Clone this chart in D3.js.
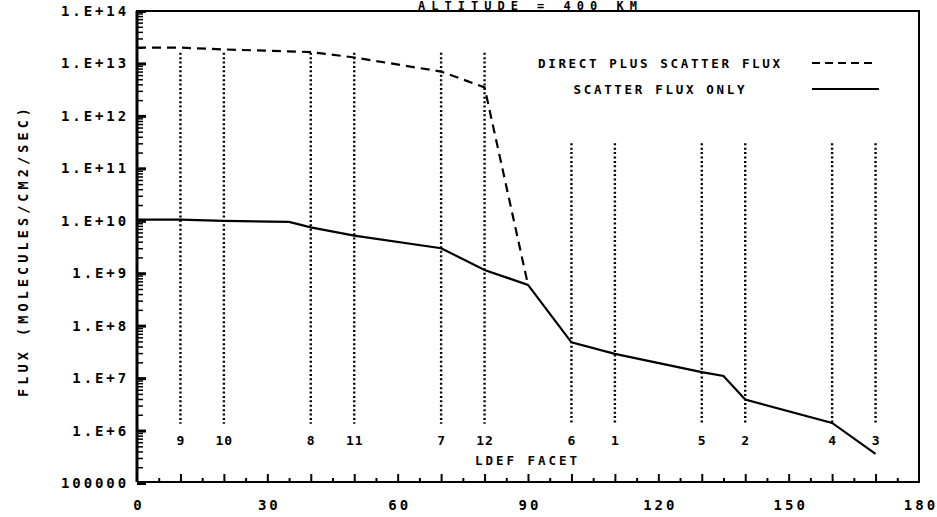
<!DOCTYPE html>
<html>
<head>
<meta charset="utf-8">
<script src="https://cdn.jsdelivr.net/npm/d3@7"></script>
<style>
  html, body { margin: 0; padding: 0; background: #fff; }
  svg text { font-family: "DejaVu Sans Mono", monospace; font-weight: bold; fill: #000; }
</style>
</head>
<body>
<svg id="chart" width="937" height="517"></svg>
<script>
// ---- data ----
const directAngles = [0, 10, 20, 40, 50, 70, 80, 90];
const directFlux   = [2.0e13, 2.0e13, 1.85e13, 1.65e13, 1.3e13, 7.0e12, 3.5e12, 6.0e8];
const scatterAngles = [0, 10, 20, 35, 40, 50, 70, 80, 90, 100, 110, 130, 135, 140, 160, 170];
const scatterFlux   = [1.05e10, 1.05e10, 1.0e10, 9.5e9, 7.5e9, 5.2e9, 3.0e9, 1.15e9, 6.0e8, 4.8e7, 2.9e7, 1.3e7, 1.1e7, 3.9e6, 1.4e6, 3.6e5];
const facetAngles = [10, 20, 40, 50, 70, 80, 100, 110, 130, 140, 160, 170];
const facetLabels = ["9", "10", "8", "11", "7", "12", "6", "1", "5", "2", "4", "3"];
const facetTop    = [1.6e13, 1.6e13, 1.6e13, 1.6e13, 1.6e13, 1.6e13, 3e11, 3e11, 3e11, 3e11, 3e11, 3e11];
const xTickLabels = [0, 30, 60, 90, 120, 150, 180];
const yTickValues = [1e5, 1e6, 1e7, 1e8, 1e9, 1e10, 1e11, 1e12, 1e13, 1e14];
const legendLabels = ["DIRECT PLUS SCATTER FLUX", "SCATTER FLUX ONLY"];
const titleText = "ALTITUDE = 400 KM";
const xTitle = "LDEF FACET";
const yTitle = "FLUX (MOLECULES/CM2/SEC)";

// ---- layout ----
const L = 137, R = 919, T = 11, B = 482;
const svg = d3.select("#chart");
const x = d3.scaleLinear().domain([0, 180]).range([L, R]);
const y = d3.scaleLog().domain([1e5, 1e14]).range([B + 1, T]);

// title (squeezed above the frame)
svg.append("text").attr("x", 418).attr("y", 9.5)
  .attr("font-size", 12).attr("textLength", 219).attr("lengthAdjust", "spacing")
  .text(titleText);

// frame
svg.append("path")
  .attr("d", `M${L},${B} L${L},${T} L${R},${T} L${R},${B} L${L},${B}`)
  .attr("fill", "none").attr("stroke", "#000").attr("stroke-width", 2);
svg.append("line").attr("x1", L).attr("x2", L).attr("y1", T).attr("y2", B)
  .attr("stroke", "#000").attr("stroke-width", 3);

// y axis: minor ticks
const minor = [];
for (let e = 5; e < 14; e++) for (let m = 2; m <= 9; m++) minor.push(m * Math.pow(10, e));
svg.append("g").attr("transform", `translate(${L},0)`)
  .call(d3.axisLeft(y).tickValues(minor).tickSize(-6).tickFormat(""))
  .call(g => g.select(".domain").remove())
  .call(g => g.selectAll("line").attr("stroke-width", 1.5));
// y axis: major ticks + labels
const fmtY = v => { const e = Math.round(Math.log10(v)); return e === 5 ? "100000" : "1.E+" + e; };
svg.append("g").attr("transform", `translate(${L},0)`)
  .call(d3.axisLeft(y).tickValues(yTickValues).tickSize(-9).tickPadding(8).tickFormat(fmtY))
  .call(g => g.select(".domain").remove())
  .call(g => g.selectAll("line").attr("stroke-width", 3))
  .call(g => g.selectAll("text").attr("font-size", 14).attr("font-family", null)
     .attr("letter-spacing", 2.9));

// x axis ticks
const x5 = d3.range(5, 180, 10);
const x10 = d3.range(10, 180, 10);
svg.append("g").attr("transform", `translate(0,${B})`)
  .call(d3.axisBottom(x).tickValues(x5).tickSize(-4).tickFormat(""))
  .call(g => g.select(".domain").remove())
  .call(g => g.selectAll("line").attr("stroke-width", 2));
svg.append("g").attr("transform", `translate(0,${B})`)
  .call(d3.axisBottom(x).tickValues(x10).tickSize(-8).tickFormat(""))
  .call(g => g.select(".domain").remove())
  .call(g => g.selectAll("line").attr("stroke-width", 2));
svg.append("g").attr("transform", `translate(0,${B})`)
  .call(d3.axisBottom(x).tickValues(xTickLabels).tickSize(0).tickPadding(18).tickFormat(d => String(d)))
  .call(g => g.select(".domain").remove())
  .call(g => g.selectAll("text").attr("font-size", 14).attr("font-family", null)
     .attr("letter-spacing", 3).attr("dx", 1.5));

// facet dotted lines
const facets = facetAngles.map((a, i) => ({ a, label: facetLabels[i], top: facetTop[i] }));
svg.append("g").selectAll("line").data(facets).join("line")
  .attr("x1", d => x(d.a)).attr("x2", d => x(d.a))
  .attr("y1", d => y(d.top)).attr("y2", y(1.35e6))
  .attr("stroke", "#000").attr("stroke-width", 2.4).attr("stroke-dasharray", "2,2.4");
svg.append("g").selectAll("text").data(facets).join("text")
  .attr("x", d => x(d.a)).attr("y", 445).attr("text-anchor", "middle")
  .attr("font-size", 13).attr("letter-spacing", 1).attr("dx", 0.5)
  .text(d => d.label);
svg.append("text").attr("x", 475).attr("y", 465).attr("font-size", 12.5)
  .attr("textLength", 102).attr("lengthAdjust", "spacing").text(xTitle);

// y title
svg.append("text").attr("transform", "translate(28,252.5) rotate(-90)")
  .attr("text-anchor", "middle").attr("font-size", 13.5)
  .attr("textLength", 289).attr("lengthAdjust", "spacing").text(yTitle);

// series lines
const line = d3.line().x(d => x(d[0])).y(d => y(d[1]));
svg.append("path").datum(directAngles.map((a, i) => [a, directFlux[i]]))
  .attr("d", line).attr("fill", "none").attr("stroke", "#000")
  .attr("stroke-width", 2.2).attr("stroke-dasharray", "9,6");
svg.append("path").datum(scatterAngles.map((a, i) => [a, scatterFlux[i]]))
  .attr("d", line).attr("fill", "none").attr("stroke", "#000")
  .attr("stroke-width", 2.2);

// legend
svg.append("text").attr("x", 659).attr("y", 68).attr("text-anchor", "middle")
  .attr("font-size", 12.5).attr("textLength", 242).attr("lengthAdjust", "spacing")
  .text(legendLabels[0]);
svg.append("text").attr("x", 659).attr("y", 94).attr("text-anchor", "middle")
  .attr("font-size", 12.5).attr("textLength", 171).attr("lengthAdjust", "spacing")
  .text(legendLabels[1]);
svg.append("line").attr("x1", 812).attr("x2", 877).attr("y1", 63).attr("y2", 63)
  .attr("stroke", "#000").attr("stroke-width", 2).attr("stroke-dasharray", "8,5");
svg.append("line").attr("x1", 812).attr("x2", 879).attr("y1", 89).attr("y2", 89)
  .attr("stroke", "#000").attr("stroke-width", 2);
</script>
</body>
</html>
